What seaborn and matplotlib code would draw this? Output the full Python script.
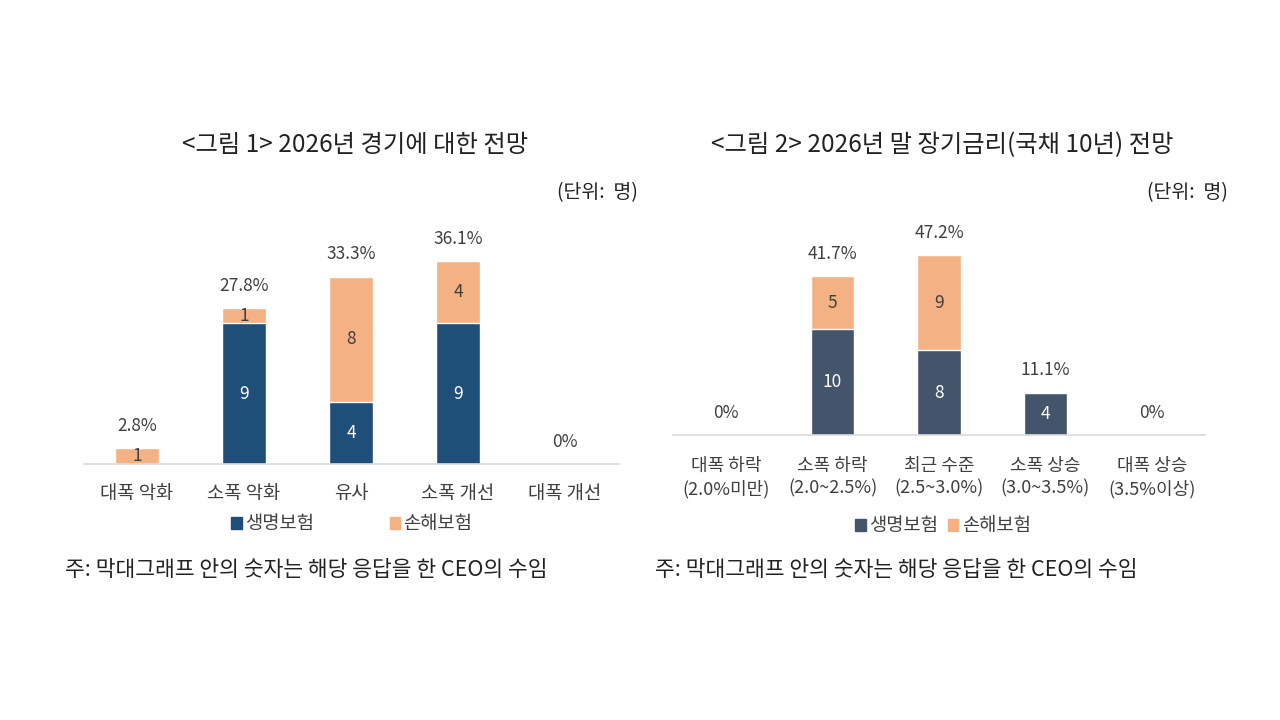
import matplotlib
matplotlib.use("Agg")
import matplotlib.pyplot as plt
import seaborn as sns
from matplotlib.patches import Patch

sns.set_theme(style="white")
plt.rcParams['font.family'] = ['Noto Sans CJK KR', 'DejaVu Sans']

# 그림 1: 2026년 경기 전망
cat1 = ['대폭 악화', '소폭 악화', '유사', '소폭 개선', '대폭 개선']
life1 = [0, 9, 4, 9, 0]
nonlife1 = [1, 1, 8, 4, 0]
pct1 = ['2.8%', '27.8%', '33.3%', '36.1%', '0%']

# 그림 2: 2026년 말 장기금리 전망
cat2 = ['대폭 하락\n(2.0%미만)', '소폭 하락\n(2.0~2.5%)', '최근 수준\n(2.5~3.0%)',
        '소폭 상승\n(3.0~3.5%)', '대폭 상승\n(3.5%이상)']
life2 = [0, 10, 8, 4, 0]
nonlife2 = [0, 5, 9, 0, 0]
pct2 = ['0%', '41.7%', '47.2%', '11.1%', '0%']

ORANGE = '#F4B183'
TXT = '#404040'

fig = plt.figure(figsize=(12.8, 7.2), dpi=100)
fig.patch.set_facecolor('white')


def stacked(ax, cats, life, nonlife, pcts, dark, ymax, linesp, pad, tsize):
    total = [a + b for a, b in zip(life, nonlife)]
    sns.barplot(x=cats, y=total, color=ORANGE, width=0.41, saturation=1, ax=ax, order=cats)
    sns.barplot(x=cats, y=life, color=dark, width=0.41, saturation=1, ax=ax, order=cats)
    ax.set_xlim(-0.5, len(cats) - 0.5)
    ax.set_ylim(0, ymax)
    for i in range(len(cats)):
        if life[i] > 0:
            ax.text(i, life[i] / 2, str(life[i]), ha='center', va='center',
                    color='white', fontsize=12.5)
        if nonlife[i] > 0:
            ax.text(i, life[i] + nonlife[i] / 2, str(nonlife[i]), ha='center',
                    va='center', color=TXT, fontsize=12.5)
        ax.annotate(pcts[i], (i, total[i]), xytext=(0, 16), textcoords='offset points',
                    ha='center', va='center', color=TXT, fontsize=12.5)
    sns.despine(ax=ax, left=True, top=True, right=True)
    ax.spines['bottom'].set_color('#D9D9D9')
    ax.spines['bottom'].set_linewidth(1.2)
    ax.set_yticks([])
    ax.set_ylabel('')
    ax.tick_params(axis='x', length=0, pad=pad, labelsize=tsize, labelcolor=TXT)
    for lab in ax.get_xticklabels():
        lab.set_linespacing(linesp)


ax1 = fig.add_axes([83.5 / 1280, 1 - 464 / 720, 535 / 1280, 250 / 720])
stacked(ax1, cat1, life1, nonlife1, pct1, '#1F4E79', 16, 1.2, 14, 13.5)

ax2 = fig.add_axes([673 / 1280, 1 - 435 / 720, 532 / 1280, 212 / 720])
stacked(ax2, cat2, life2, nonlife2, pct2, '#44546A', 20, 1.35, 15.5, 13)

# 제목, 단위
fig.text(355 / 1280, 1 - 145 / 720, '<그림 1> 2026년 경기에 대한 전망', ha='center',
         va='center', fontsize=17.5, color='#222222')
fig.text(942 / 1280, 1 - 145 / 720, '<그림 2> 2026년 말 장기금리(국채 10년) 전망',
         ha='center', va='center', fontsize=17.5, color='#222222')
fig.text(638 / 1280, 1 - 193 / 720, '(단위:  명)', ha='right', va='center',
         fontsize=14, color='#222222')
fig.text(1228 / 1280, 1 - 193 / 720, '(단위:  명)', ha='right', va='center',
         fontsize=14, color='#222222')

# 범례
for cx, cy, dark, gap in [(352, 524, '#1F4E79', 4.0), (943, 526, '#44546A', 0.5)]:
    handles = [Patch(color=dark, label='생명보험'), Patch(color=ORANGE, label='손해보험')]
    fig.legend(handles=handles, loc='center', bbox_to_anchor=(cx / 1280, 1 - cy / 720),
               ncol=2, frameon=False, fontsize=13.5, handlelength=0.55, handleheight=0.55,
               handletextpad=0.2, columnspacing=gap, labelcolor=TXT)

# 주석
note = '주: 막대그래프 안의 숫자는 해당 응답을 한 CEO의 수임'
fig.text(65 / 1280, 1 - 570 / 720, note, ha='left', va='center', fontsize=15.5, color='#222222')
fig.text(655 / 1280, 1 - 570 / 720, note, ha='left', va='center', fontsize=15.5, color='#222222')

fig.savefig('out.png', dpi=100, facecolor='white')
